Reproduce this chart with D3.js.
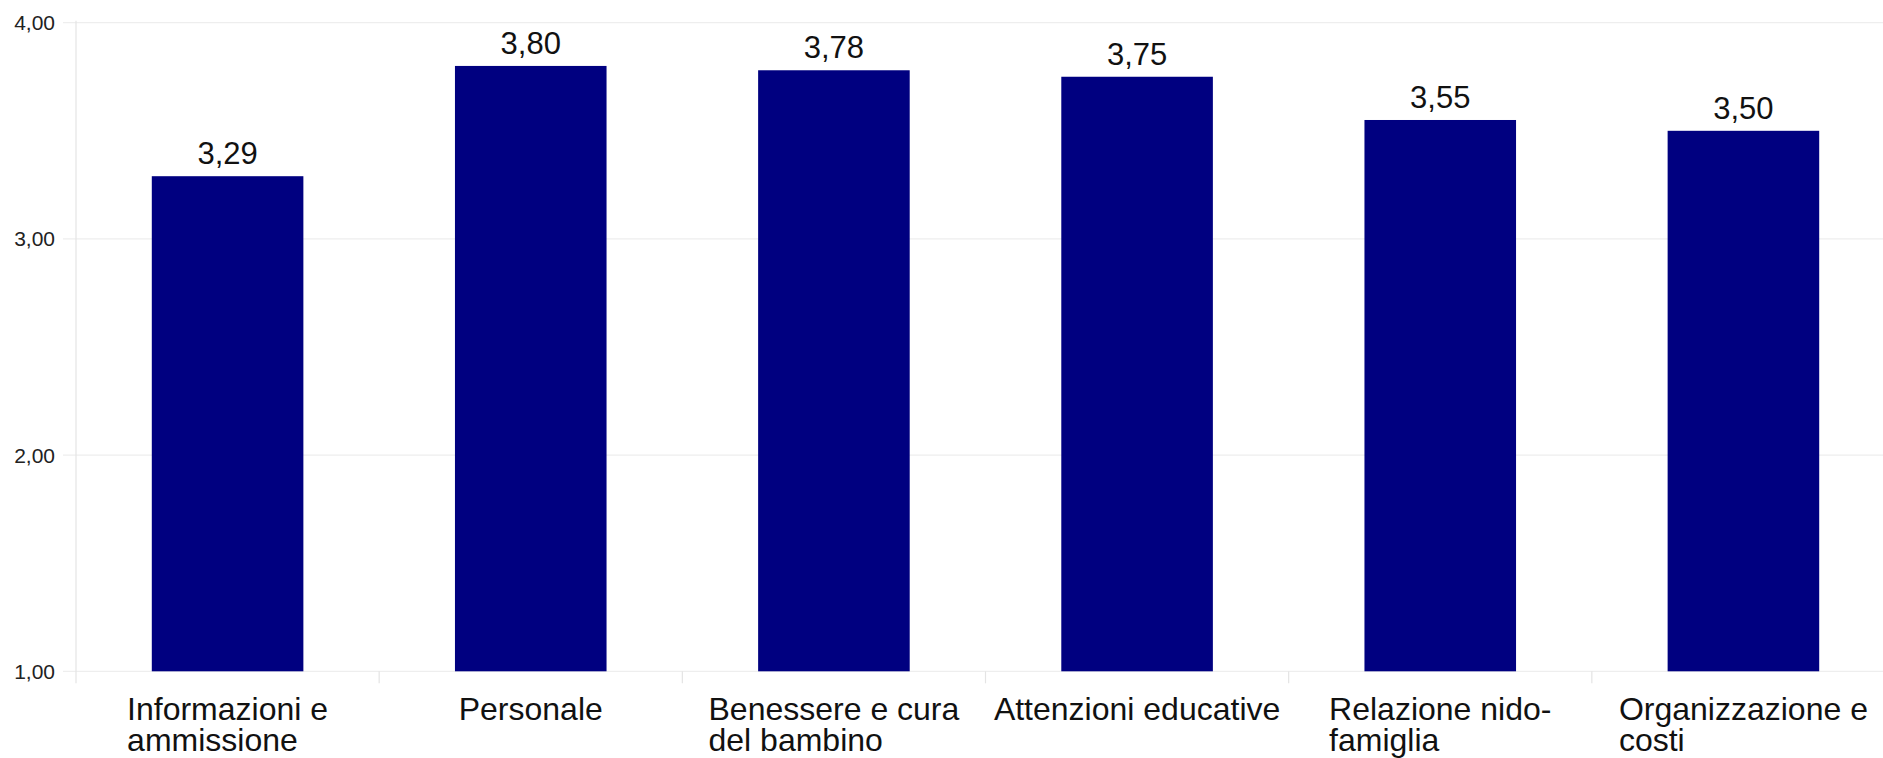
<!DOCTYPE html>
<html>
<head>
<meta charset="utf-8">
<script src="https://cdn.jsdelivr.net/npm/d3@7"></script>
<style>
  html, body { margin: 0; padding: 0; background: #ffffff; }
  svg { display: block; font-family: "Liberation Sans", Arial, sans-serif; }
</style>
</head>
<body>
<svg id="chart" width="1883" height="758"></svg>
<script>
// Satisfaction scores by area (scale 1–4)
const categories = [
  "Informazioni e\nammissione",
  "Personale",
  "Benessere e cura\ndel bambino",
  "Attenzioni educative",
  "Relazione nido-\nfamiglia",
  "Organizzazione e\ncosti"
];
const values = [3.29, 3.80, 3.78, 3.75, 3.55, 3.50];
const yTicks = [1, 2, 3, 4];

const fmt = v => d3.format(".2f")(v).replace(".", ",");

const svg = d3.select("#chart");
const plotLeft = 76, plotRight = 1895, plotTop = 22.7, plotBottom = 671.3;

const x = d3.scaleBand()
  .domain(categories)
  .range([plotLeft, plotRight])
  .paddingInner(0.5)
  .paddingOuter(0.25);

const y = d3.scaleLinear().domain([1, 4]).range([plotBottom, plotTop]);

// horizontal grid lines
svg.append("g")
  .selectAll("line")
  .data(yTicks)
  .join("line")
  .attr("x1", plotLeft - 13).attr("x2", plotRight)
  .attr("y1", d => y(d)).attr("y2", d => y(d))
  .attr("stroke", "#eeeeee").attr("stroke-width", 1.2);

// y axis line
svg.append("line")
  .attr("x1", plotLeft).attr("x2", plotLeft)
  .attr("y1", plotTop - 2).attr("y2", plotBottom + 12)
  .attr("stroke", "#e4e4e4").attr("stroke-width", 1.2);

// category separators below the baseline
const step = x.step();
svg.append("g")
  .selectAll("line")
  .data(categories.slice(1))
  .join("line")
  .attr("x1", d => x(d) - step * x.paddingInner() / 2)
  .attr("x2", d => x(d) - step * x.paddingInner() / 2)
  .attr("y1", plotBottom).attr("y2", plotBottom + 12)
  .attr("stroke", "#e4e4e4").attr("stroke-width", 1.2);

// y tick labels
svg.append("g")
  .selectAll("text")
  .data(yTicks)
  .join("text")
  .attr("x", 55)
  .attr("y", d => y(d) + 7.5)
  .attr("text-anchor", "end")
  .attr("font-size", 21)
  .attr("fill", "#222")
  .text(d => fmt(d));

// bars
svg.append("g")
  .selectAll("rect")
  .data(values)
  .join("rect")
  .attr("x", (d, i) => x(categories[i]))
  .attr("width", x.bandwidth())
  .attr("y", d => y(d))
  .attr("height", d => y(1) - y(d))
  .attr("fill", "#000080");

// value labels
svg.append("g")
  .selectAll("text")
  .data(values)
  .join("text")
  .attr("x", (d, i) => x(categories[i]) + x.bandwidth() / 2)
  .attr("y", d => y(d) - 12)
  .attr("text-anchor", "middle")
  .attr("font-size", 31)
  .attr("fill", "#111")
  .text(d => fmt(d));

// category labels: lines left-aligned, block centred under each bar
const lab = svg.append("g");
categories.forEach(c => {
  const lines = c.split("\n");
  const t = lab.append("text")
    .attr("font-size", 32)
    .attr("fill", "#111");
  const spans = lines.map((ln, k) =>
    t.append("tspan")
      .attr("y", 719.5 + k * 31)
      .text(ln));
  const w = d3.max(spans, s => s.node().getComputedTextLength());
  const cx = x(c) + x.bandwidth() / 2;
  spans.forEach(s => s.attr("x", cx - w / 2));
});
</script>
</body>
</html>
